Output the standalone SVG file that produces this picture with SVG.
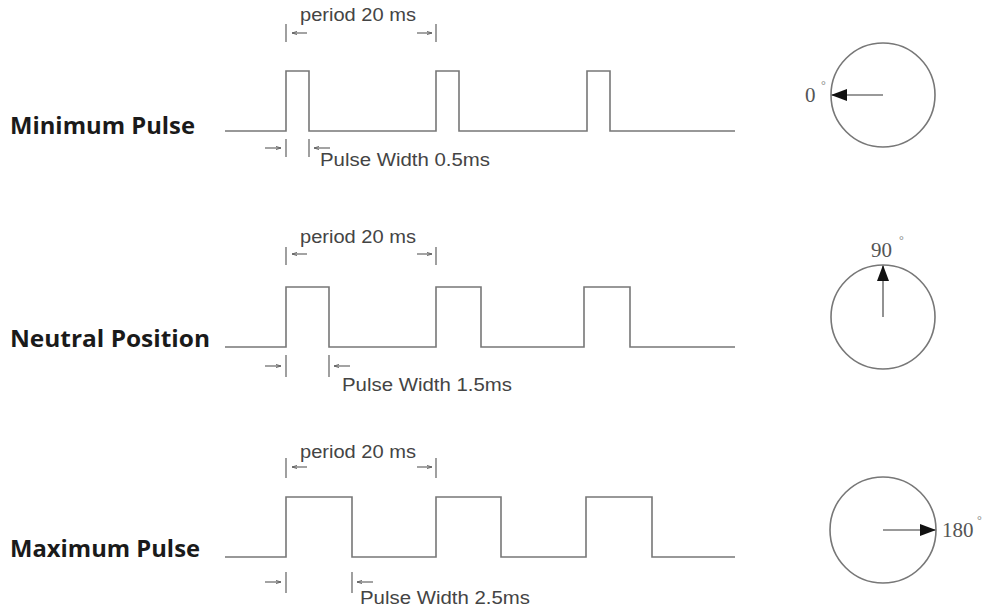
<svg xmlns="http://www.w3.org/2000/svg" width="987" height="609" viewBox="0 0 987 609">
<defs>
<marker id="sa" markerWidth="6" markerHeight="6" refX="5" refY="3" orient="auto" markerUnits="userSpaceOnUse">
<path d="M0,1.5 L5,3 L0,4.5" fill="none" stroke="#666" stroke-width="1"/>
</marker>
<marker id="big" markerWidth="16" markerHeight="12" refX="15" refY="6" orient="auto" markerUnits="userSpaceOnUse">
<path d="M0,0 L16,6 L0,12 Z" fill="#111"/>
</marker>
</defs>
<style>
.w{fill:none;stroke:#777;stroke-width:1.6}
.t{stroke:#777;stroke-width:1.4}
.a{stroke:#666;stroke-width:1.2;marker-end:url(#sa)}
.s{font-family:"Liberation Sans",Arial,sans-serif;font-size:18px;fill:#444}
.lab{font-family:"Open Sans","Noto Sans",sans-serif;font-weight:bold;font-size:23.5px;fill:#1a1a1a}
.c{fill:none;stroke:#777;stroke-width:1.6}
.p{stroke:#777;stroke-width:1.6;marker-end:url(#big)}
.d{font-family:"Liberation Serif","Times New Roman",serif;font-size:21px;fill:#555}
.deg{font-family:"Liberation Serif",serif;font-size:12px;fill:#888}
</style>
<rect width="987" height="609" fill="#fff"/>

<g id="row-minimum">
<text class="lab" x="10" y="134" textLength="185" lengthAdjust="spacingAndGlyphs">Minimum Pulse</text>
<path class="w" d="M225,131 H286 V71 H309 V131 H436 V71 H459 V131 H587 V71 H610 V131 H735"/>
<text class="s" x="300" y="21" textLength="116" lengthAdjust="spacingAndGlyphs">period 20 ms</text>
<line class="t" x1="286" y1="24" x2="286" y2="42"/>
<line class="t" x1="436" y1="24" x2="436" y2="42"/>
<line class="a" x1="307" y1="33" x2="292" y2="33"/>
<line class="a" x1="417" y1="33" x2="432" y2="33"/>
<line class="t" x1="286" y1="139" x2="286" y2="157"/>
<line class="t" x1="309" y1="139" x2="309" y2="157"/>
<line class="a" x1="265" y1="148" x2="281" y2="148"/>
<line class="a" x1="330" y1="148" x2="314" y2="148"/>
<text class="s" x="320" y="166" textLength="170" lengthAdjust="spacingAndGlyphs">Pulse Width 0.5ms</text>
</g>

<g id="dial-0">
<circle class="c" cx="883" cy="95" r="52"/>
<line class="p" x1="883" y1="95" x2="832" y2="95"/>
<text class="d" x="805" y="102">0</text>
<text class="deg" x="821" y="89">°</text>
</g>

<g id="row-neutral">
<text class="lab" x="10" y="347" textLength="200" lengthAdjust="spacingAndGlyphs">Neutral Position</text>
<path class="w" d="M225,347 H286 V287 H329 V347 H436 V287 H481 V347 H584 V287 H630 V347 H735"/>
<text class="s" x="300" y="243" textLength="116" lengthAdjust="spacingAndGlyphs">period 20 ms</text>
<line class="t" x1="286" y1="247" x2="286" y2="265"/>
<line class="t" x1="436" y1="247" x2="436" y2="265"/>
<line class="a" x1="307" y1="254" x2="292" y2="254"/>
<line class="a" x1="417" y1="254" x2="432" y2="254"/>
<line class="t" x1="286" y1="355" x2="286" y2="377"/>
<line class="t" x1="329" y1="355" x2="329" y2="377"/>
<line class="a" x1="265" y1="366" x2="281" y2="366"/>
<line class="a" x1="350" y1="366" x2="334" y2="366"/>
<text class="s" x="342" y="391" textLength="170" lengthAdjust="spacingAndGlyphs">Pulse Width 1.5ms</text>
</g>

<g id="dial-90">
<circle class="c" cx="883" cy="317" r="52"/>
<line class="p" x1="883" y1="317" x2="883" y2="266"/>
<text class="d" x="871" y="257">90</text>
<text class="deg" x="899" y="244">°</text>
</g>

<g id="row-maximum">
<text class="lab" x="10" y="557" textLength="190" lengthAdjust="spacingAndGlyphs">Maximum Pulse</text>
<path class="w" d="M225,557 H286 V497 H352 V557 H436 V497 H501 V557 H586 V497 H652 V557 H735"/>
<text class="s" x="300" y="458" textLength="116" lengthAdjust="spacingAndGlyphs">period 20 ms</text>
<line class="t" x1="286" y1="458" x2="286" y2="478"/>
<line class="t" x1="436" y1="458" x2="436" y2="478"/>
<line class="a" x1="307" y1="467" x2="292" y2="467"/>
<line class="a" x1="417" y1="467" x2="432" y2="467"/>
<line class="t" x1="286" y1="572" x2="286" y2="593"/>
<line class="t" x1="352" y1="572" x2="352" y2="593"/>
<line class="a" x1="265" y1="582" x2="281" y2="582"/>
<line class="a" x1="373" y1="582" x2="357" y2="582"/>
<text class="s" x="360" y="604" textLength="170" lengthAdjust="spacingAndGlyphs">Pulse Width 2.5ms</text>
</g>

<g id="dial-180">
<circle class="c" cx="883" cy="530" r="53"/>
<line class="p" x1="883" y1="530" x2="935" y2="530"/>
<text class="d" x="942" y="537">180</text>
<text class="deg" x="977" y="524">°</text>
</g>
</svg>
